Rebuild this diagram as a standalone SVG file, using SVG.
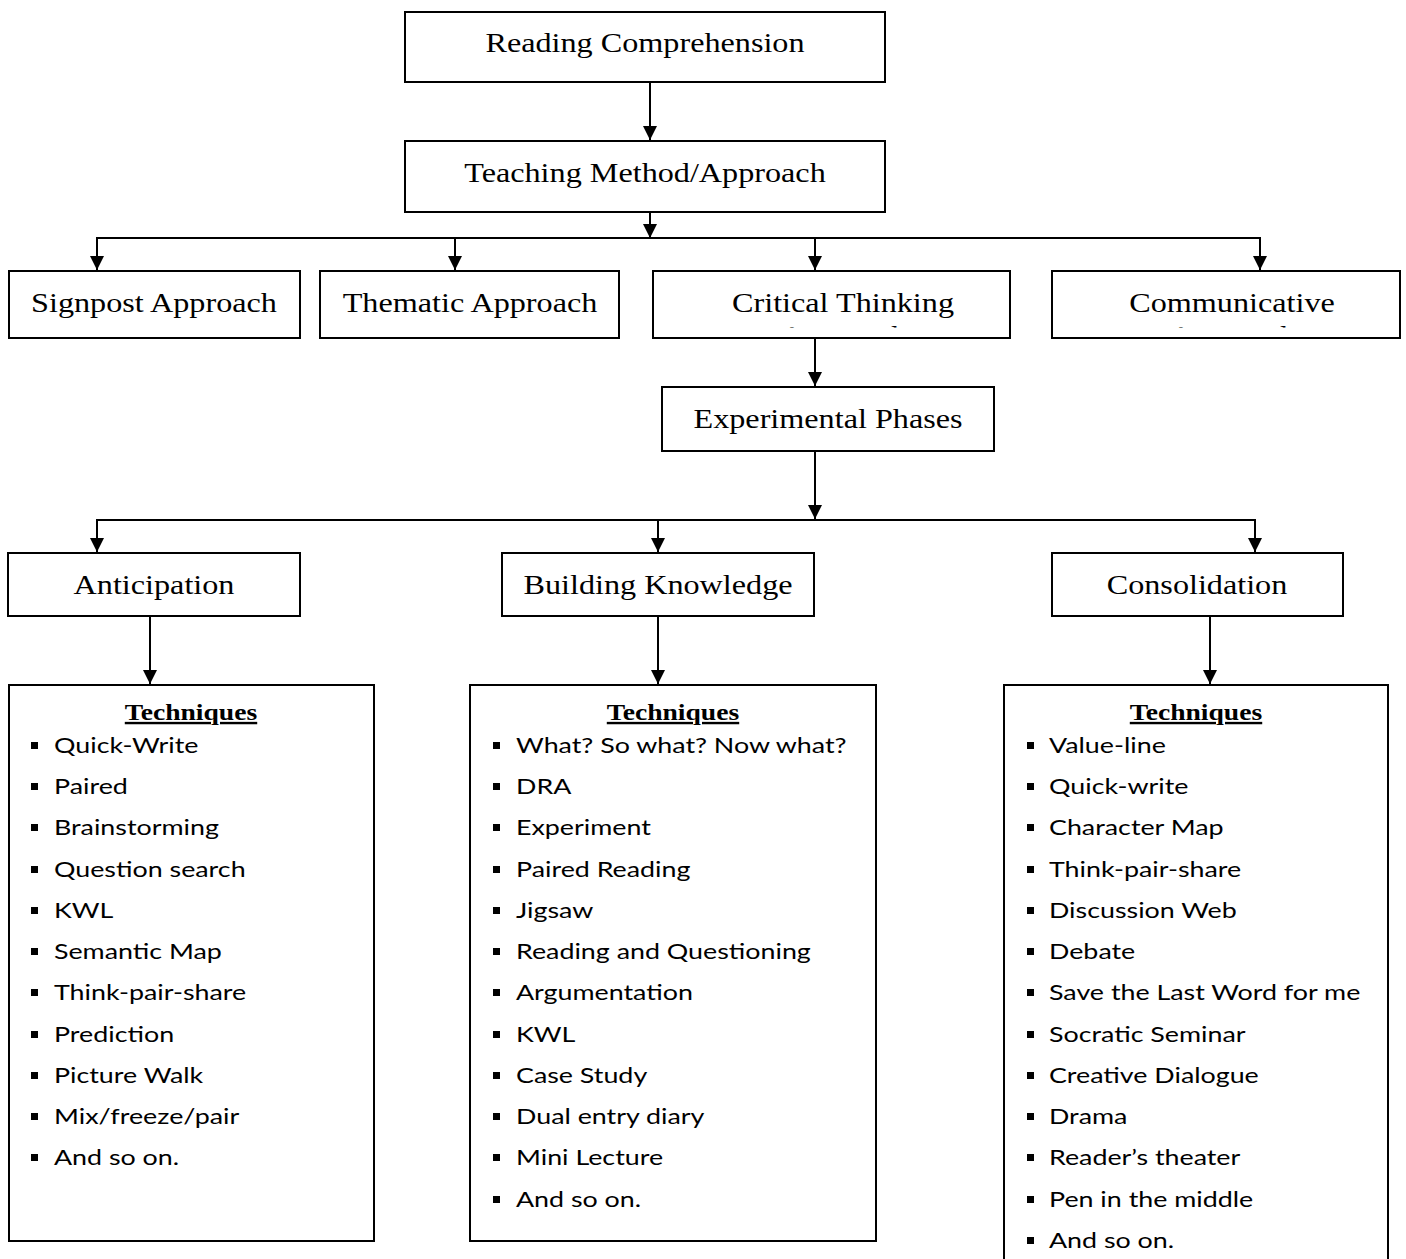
<svg xmlns="http://www.w3.org/2000/svg" width="1406" height="1259" viewBox="0 0 1406 1259">
<style>
.box{fill:#fff;stroke:#000;stroke-width:2}
.t{font-family:"Liberation Serif","Times New Roman",serif;font-size:28px;fill:#000;text-anchor:middle}
.h{font-family:"Liberation Serif","Times New Roman",serif;font-size:24px;font-weight:bold;text-decoration:underline;fill:#000;text-anchor:middle}
.i{font-family:Lato,"Liberation Sans",sans-serif;font-size:22px;fill:#000}
.c{stroke:#000;stroke-width:2;fill:none}
</style>
<defs>
<marker id="ah" markerUnits="userSpaceOnUse" markerWidth="16" markerHeight="16" viewBox="0 0 16 16" refX="15" refY="8" orient="auto">
<path d="M1,1 L15,8 L1,15 Z" fill="#000"/>
</marker>
<rect id="b" x="0" y="0" width="7" height="7" fill="#000"/>
<clipPath id="clipCT"><rect x="654" y="272" width="355" height="55.5"/></clipPath>
<clipPath id="clipCA"><rect x="1053" y="272" width="346" height="55.5"/></clipPath>
</defs>

<g id="connectors">
<line class="c" x1="650" y1="83" x2="650" y2="140" marker-end="url(#ah)"/>
<line class="c" x1="650" y1="212" x2="650" y2="238" marker-end="url(#ah)"/>
<polyline class="c" points="97,270 97,238 1260,238 1260,270"/>
<line class="c" x1="97" y1="238" x2="97" y2="270" marker-end="url(#ah)"/>
<line class="c" x1="455" y1="238" x2="455" y2="270" marker-end="url(#ah)"/>
<line class="c" x1="815" y1="238" x2="815" y2="270" marker-end="url(#ah)"/>
<line class="c" x1="1260" y1="238" x2="1260" y2="270" marker-end="url(#ah)"/>
<line class="c" x1="815" y1="338" x2="815" y2="386" marker-end="url(#ah)"/>
<line class="c" x1="815" y1="451" x2="815" y2="519" marker-end="url(#ah)"/>
<polyline class="c" points="97,552 97,520 1255,520 1255,552"/>
<line class="c" x1="97" y1="520" x2="97" y2="552" marker-end="url(#ah)"/>
<line class="c" x1="658" y1="520" x2="658" y2="552" marker-end="url(#ah)"/>
<line class="c" x1="1255" y1="520" x2="1255" y2="552" marker-end="url(#ah)"/>
<line class="c" x1="150" y1="616" x2="150" y2="684" marker-end="url(#ah)"/>
<line class="c" x1="658" y1="616" x2="658" y2="684" marker-end="url(#ah)"/>
<line class="c" x1="1210" y1="616" x2="1210" y2="684" marker-end="url(#ah)"/>
</g>

<g id="reading-comprehension">
<rect class="box" x="405" y="12" width="480" height="70"/>
<text class="t" transform="translate(645,52) scale(1.15,1)">Reading Comprehension</text>
</g>
<g id="teaching-method">
<rect class="box" x="405" y="141" width="480" height="71"/>
<text class="t" transform="translate(645,182) scale(1.15,1)">Teaching Method/Approach</text>
</g>
<g id="signpost">
<rect class="box" x="9" y="271" width="291" height="67"/>
<text class="t" transform="translate(154,312) scale(1.15,1)">Signpost Approach</text>
</g>
<g id="thematic">
<rect class="box" x="320" y="271" width="299" height="67"/>
<text class="t" transform="translate(470,312) scale(1.15,1)">Thematic Approach</text>
</g>
<g id="critical-thinking">
<rect class="box" x="653" y="271" width="357" height="67"/>
<text class="t" transform="translate(843,312) scale(1.15,1)">Critical Thinking</text>
<g clip-path="url(#clipCT)"><text class="t" transform="translate(844,345) scale(1.15,1)">Approach</text></g>
</g>
<g id="communicative">
<rect class="box" x="1052" y="271" width="348" height="67"/>
<text class="t" transform="translate(1232,312) scale(1.15,1)">Communicative</text>
<g clip-path="url(#clipCA)"><text class="t" transform="translate(1233,345) scale(1.15,1)">Approach</text></g>
</g>
<g id="experimental-phases">
<rect class="box" x="662" y="387" width="332" height="64"/>
<text class="t" transform="translate(828,428) scale(1.15,1)">Experimental Phases</text>
</g>
<g id="anticipation">
<rect class="box" x="8" y="553" width="292" height="63"/>
<text class="t" transform="translate(154,594) scale(1.15,1)">Anticipation</text>
</g>
<g id="building-knowledge">
<rect class="box" x="502" y="553" width="312" height="63"/>
<text class="t" transform="translate(658,594) scale(1.15,1)">Building Knowledge</text>
</g>
<g id="consolidation">
<rect class="box" x="1052" y="553" width="291" height="63"/>
<text class="t" transform="translate(1197,594) scale(1.15,1)">Consolidation</text>
</g>

<g id="techniques-anticipation">
<rect class="box" x="9" y="685" width="365" height="556"/>
<text class="h" transform="translate(191,720) scale(1.15,1)">Techniques</text>
<use href="#b" x="31" y="742"/><use href="#b" x="31" y="783"/><use href="#b" x="31" y="824"/><use href="#b" x="31" y="866"/><use href="#b" x="31" y="907"/><use href="#b" x="31" y="948"/><use href="#b" x="31" y="989"/><use href="#b" x="31" y="1031"/><use href="#b" x="31" y="1072"/><use href="#b" x="31" y="1113"/><use href="#b" x="31" y="1154"/>
<g class="i" transform="translate(54,0) scale(1.22,1)">
<text x="0" y="753">Quick-Write</text>
<text x="0" y="794">Paired</text>
<text x="0" y="835">Brainstorming</text>
<text x="0" y="877">Question search</text>
<text x="0" y="918">KWL</text>
<text x="0" y="959">Semantic Map</text>
<text x="0" y="1000">Think-pair-share</text>
<text x="0" y="1042">Prediction</text>
<text x="0" y="1083">Picture Walk</text>
<text x="0" y="1124">Mix/freeze/pair</text>
<text x="0" y="1165">And so on.</text>
</g>
</g>

<g id="techniques-building">
<rect class="box" x="470" y="685" width="406" height="556"/>
<text class="h" transform="translate(673,720) scale(1.15,1)">Techniques</text>
<use href="#b" x="493" y="742"/><use href="#b" x="493" y="783"/><use href="#b" x="493" y="824"/><use href="#b" x="493" y="866"/><use href="#b" x="493" y="907"/><use href="#b" x="493" y="948"/><use href="#b" x="493" y="989"/><use href="#b" x="493" y="1031"/><use href="#b" x="493" y="1072"/><use href="#b" x="493" y="1113"/><use href="#b" x="493" y="1154"/><use href="#b" x="493" y="1196"/>
<g class="i" transform="translate(516,0) scale(1.22,1)">
<text x="0" y="753">What? So what? Now what?</text>
<text x="0" y="794">DRA</text>
<text x="0" y="835">Experiment</text>
<text x="0" y="877">Paired Reading</text>
<text x="0" y="918">Jigsaw</text>
<text x="0" y="959">Reading and Questioning</text>
<text x="0" y="1000">Argumentation</text>
<text x="0" y="1042">KWL</text>
<text x="0" y="1083">Case Study</text>
<text x="0" y="1124">Dual entry diary</text>
<text x="0" y="1165">Mini Lecture</text>
<text x="0" y="1207">And so on.</text>
</g>
</g>

<g id="techniques-consolidation">
<rect class="box" x="1004" y="685" width="384" height="580"/>
<text class="h" transform="translate(1196,720) scale(1.15,1)">Techniques</text>
<use href="#b" x="1027" y="742"/><use href="#b" x="1027" y="783"/><use href="#b" x="1027" y="824"/><use href="#b" x="1027" y="866"/><use href="#b" x="1027" y="907"/><use href="#b" x="1027" y="948"/><use href="#b" x="1027" y="989"/><use href="#b" x="1027" y="1031"/><use href="#b" x="1027" y="1072"/><use href="#b" x="1027" y="1113"/><use href="#b" x="1027" y="1154"/><use href="#b" x="1027" y="1196"/><use href="#b" x="1027" y="1237"/>
<g class="i" transform="translate(1049,0) scale(1.22,1)">
<text x="0" y="753">Value-line</text>
<text x="0" y="794">Quick-write</text>
<text x="0" y="835">Character Map</text>
<text x="0" y="877">Think-pair-share</text>
<text x="0" y="918">Discussion Web</text>
<text x="0" y="959">Debate</text>
<text x="0" y="1000">Save the Last Word for me</text>
<text x="0" y="1042">Socratic Seminar</text>
<text x="0" y="1083">Creative Dialogue</text>
<text x="0" y="1124">Drama</text>
<text x="0" y="1165">Reader’s theater</text>
<text x="0" y="1207">Pen in the middle</text>
<text x="0" y="1248">And so on.</text>
</g>
</g>
</svg>
